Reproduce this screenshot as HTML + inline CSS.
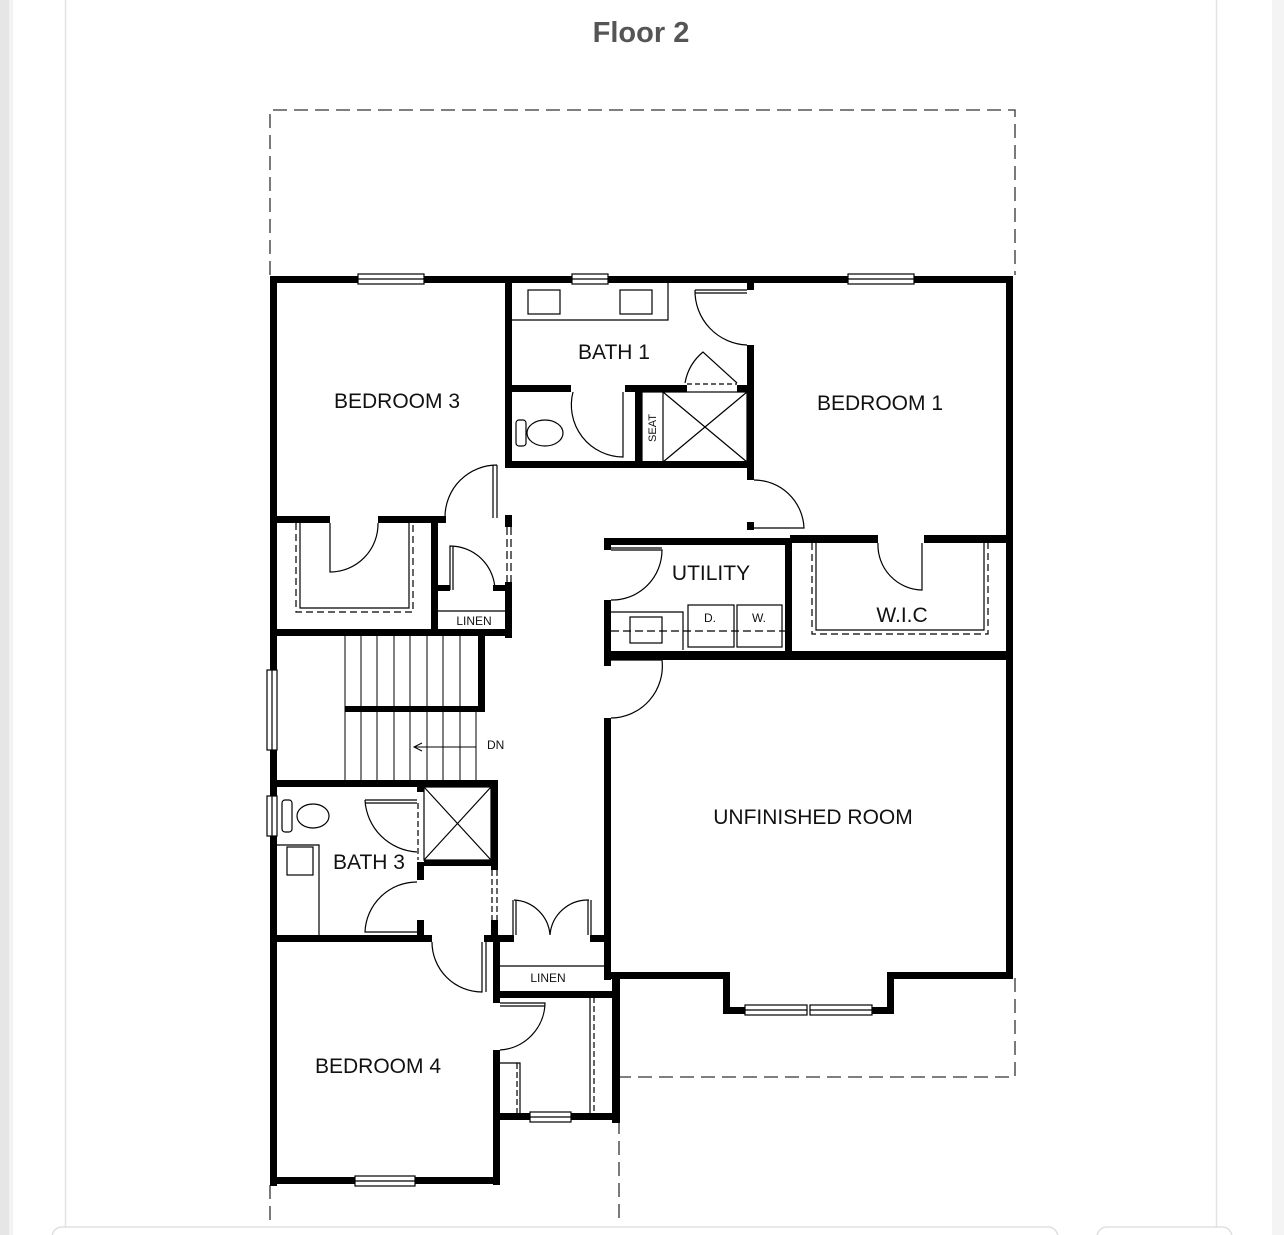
<!DOCTYPE html>
<html><head><meta charset="utf-8"><style>
html,body{margin:0;padding:0;background:#fff;}
body{width:1284px;height:1235px;position:relative;overflow:hidden;font-family:"Liberation Sans",sans-serif;}
</style></head><body>
<svg width="1284" height="1235" viewBox="0 0 1284 1235" xmlns="http://www.w3.org/2000/svg" style="position:absolute;left:0;top:0">
<rect x="0" y="0" width="9" height="1235" fill="#e6e6e6"/>
<rect x="9" y="0" width="4" height="1235" fill="#f3f3f3"/>
<line x1="65.5" y1="0" x2="65.5" y2="1228" stroke="#e2e2e2" stroke-width="1.5"/>
<line x1="1216.5" y1="0" x2="1216.5" y2="1228" stroke="#e2e2e2" stroke-width="1.5"/>
<rect x="1272" y="0" width="12" height="1235" fill="#f4f4f4"/>
<rect x="52" y="1227" width="1006" height="20" rx="10" fill="#fff" stroke="#e0e0e0" stroke-width="1.5"/>
<rect x="1097" y="1227" width="135" height="20" rx="10" fill="#fff" stroke="#e0e0e0" stroke-width="1.5"/>
<text x="641" y="42" text-anchor="middle" font-size="29" font-weight="bold" fill="#555" font-family="Liberation Sans, sans-serif">Floor 2</text>

<g fill="none" stroke="#333" stroke-width="1.3" stroke-dasharray="14,7">
<path d="M270 275 V110 H1015 V275"/>
<path d="M1015 978 V1077 H620"/>
<path d="M270 1185 V1225"/>
<path d="M619 1120 V1225"/>
</g>

<g fill="#000">
<rect x="270" y="276" width="88" height="7"/>
<rect x="424" y="276" width="148" height="7"/>
<rect x="608" y="276" width="240" height="7"/>
<rect x="914" y="276" width="99" height="7"/>
<rect x="270" y="276" width="7" height="394"/>
<rect x="270" y="750" width="7" height="46"/>
<rect x="270" y="836" width="7" height="350"/>
<rect x="1006" y="276" width="7" height="702"/>
<rect x="505" y="276" width="7" height="192"/>
<rect x="505" y="515" width="7" height="12"/>
<rect x="505" y="582" width="7" height="56"/>
<rect x="747" y="276" width="7" height="14"/>
<rect x="747" y="345" width="7" height="135"/>
<rect x="747" y="522" width="7" height="8"/>
<rect x="511" y="385" width="60" height="7"/>
<rect x="625" y="385" width="62" height="7"/>
<rect x="737" y="385" width="14" height="7"/>
<rect x="635" y="385" width="7" height="80"/>
<rect x="511" y="461" width="242" height="7"/>
<rect x="270" y="516" width="60" height="7"/>
<rect x="378" y="516" width="68" height="7"/>
<rect x="431" y="516" width="7" height="118"/>
<rect x="270" y="629" width="242" height="7"/>
<rect x="438" y="585" width="12" height="6"/>
<rect x="493" y="585" width="14" height="6"/>
<rect x="604" y="538" width="186" height="7"/>
<rect x="790" y="535" width="88" height="8"/>
<rect x="924" y="535" width="88" height="8"/>
<rect x="604" y="538" width="7" height="12"/>
<rect x="604" y="600" width="7" height="66"/>
<rect x="785" y="540" width="7" height="116"/>
<rect x="604" y="651" width="408" height="9"/>
<rect x="604" y="718" width="7" height="262"/>
<rect x="604" y="972" width="123" height="7"/>
<rect x="723" y="972" width="7" height="42"/>
<rect x="723" y="1007" width="24" height="7"/>
<rect x="870" y="1007" width="24" height="7"/>
<rect x="887" y="972" width="7" height="42"/>
<rect x="887" y="972" width="126" height="7"/>
<rect x="478" y="636" width="7" height="76"/>
<rect x="345" y="706" width="140" height="6"/>
<rect x="270" y="780" width="228" height="7"/>
<rect x="491" y="780" width="7" height="90"/>
<rect x="417" y="780" width="7" height="12"/>
<rect x="417" y="862" width="7" height="18"/>
<rect x="424" y="860" width="74" height="6"/>
<rect x="270" y="935" width="162" height="7"/>
<rect x="417" y="920" width="7" height="22"/>
<rect x="484" y="935" width="14" height="7"/>
<rect x="491" y="920" width="7" height="20"/>
<rect x="493" y="935" width="7" height="68"/>
<rect x="493" y="1050" width="7" height="135"/>
<rect x="498" y="935" width="16" height="7"/>
<rect x="590" y="935" width="20" height="7"/>
<rect x="493" y="991" width="127" height="7"/>
<rect x="612" y="978" width="8" height="145"/>
<rect x="497" y="1113" width="33" height="7"/>
<rect x="571" y="1113" width="49" height="7"/>
<rect x="270" y="1177" width="85" height="7"/>
<rect x="415" y="1177" width="85" height="7"/>
</g>

<g fill="#fff" stroke="#000" stroke-width="1.2">
<rect x="358" y="274" width="66" height="10"/><line x1="358" y1="279" x2="424" y2="279"/>
<rect x="572" y="274" width="36" height="10"/><line x1="572" y1="279" x2="608" y2="279"/>
<rect x="848" y="274" width="66" height="10"/><line x1="848" y1="279" x2="914" y2="279"/>
<rect x="267" y="670" width="10" height="80"/><line x1="272" y1="670" x2="272" y2="750"/>
<rect x="267" y="796" width="10" height="40"/><line x1="272" y1="796" x2="272" y2="836"/>
<rect x="355" y="1176" width="60" height="10"/><line x1="355" y1="1181" x2="415" y2="1181"/>
<rect x="530" y="1112" width="41" height="10"/><line x1="530" y1="1117" x2="571" y2="1117"/>
<rect x="745" y="1005" width="62" height="10"/><line x1="745" y1="1010" x2="807" y2="1010"/>
<rect x="810" y="1005" width="62" height="10"/><line x1="810" y1="1010" x2="872" y2="1010"/>
</g>

<g fill="none" stroke="#000" stroke-width="1.2">
<path d="M512 320 H668 V283"/>
<rect x="528" y="290" width="32" height="24"/>
<rect x="620" y="290" width="32" height="24"/>
<path d="M695 290 H747 M695 293 H747"/>
<path d="M695 290 A54 54 0 0 0 747 345"/>
<path d="M685 383 A52 52 0 0 1 703 352 L737 383"/>
<path d="M687 384 H737" stroke-dasharray="5,3"/>
<rect x="642" y="392" width="105" height="70"/>
<line x1="663" y1="392" x2="663" y2="462"/>
<line x1="663" y1="392" x2="747" y2="462"/><line x1="747" y1="392" x2="663" y2="462"/>
<rect x="516" y="420" width="10" height="26" rx="3"/>
<ellipse cx="545" cy="433" rx="18" ry="13"/>
<path d="M573 392 A52 52 0 0 0 623 457 V392"/>
<path d="M754 480 A50 50 0 0 1 804 528 H754"/>
<path d="M497 465 V518 M493 465 V518"/>
<path d="M497 465 A52 52 0 0 0 445 517"/>
<path d="M507 527 V582 M511 527 V582" stroke-dasharray="8,4"/>
<path d="M330 523 V572 A48 48 0 0 0 378 523"/>
<path d="M296 523 V612 H413 V523" stroke-dasharray="7,4"/>
<path d="M300 523 V608 H409 V523"/>
<path d="M450 590 V546 A45 45 0 0 1 495 590"/>
<path d="M453 590 V546"/>
<path d="M438 611 H505"/>
<g stroke-width="1">
<line x1="345" y1="636" x2="345" y2="780"/><line x1="361" y1="636" x2="361" y2="780"/>
<line x1="377" y1="636" x2="377" y2="780"/><line x1="394" y1="636" x2="394" y2="780"/>
<line x1="410" y1="636" x2="410" y2="780"/><line x1="427" y1="636" x2="427" y2="780"/>
<line x1="443" y1="636" x2="443" y2="780"/><line x1="460" y1="636" x2="460" y2="780"/>
<line x1="476" y1="712" x2="476" y2="780"/>
<line x1="415" y1="747" x2="476" y2="747"/>
<path d="M422 743 L414 747 L422 751"/>
</g>
<path d="M611 550 H662 A50 50 0 0 1 611 600"/>
<path d="M611 548 H662"/>
<path d="M611 612 H683 V650"/>
<rect x="630" y="617" width="32" height="26"/>
<rect x="688" y="605" width="46" height="42"/>
<rect x="737" y="605" width="45" height="42"/>
<path d="M611 631 H785" stroke-dasharray="8,4"/>
<path d="M611 660 H662 A52 52 0 0 1 611 718"/>
<path d="M878 543 A45 45 0 0 0 922 590 V543"/>
<path d="M812 543 V634 H988 V543" stroke-dasharray="7,4"/>
<path d="M816 543 V630 H984 V543"/>
<rect x="424" y="787" width="67" height="73"/>
<line x1="424" y1="787" x2="491" y2="860"/><line x1="491" y1="787" x2="424" y2="860"/>
<rect x="282" y="800" width="10" height="32" rx="3"/>
<ellipse cx="313" cy="816" rx="16" ry="12"/>
<path d="M277 845 H319 V935"/>
<rect x="287" y="847" width="26" height="28"/>
<path d="M365 800 H417 M365 803 H417"/>
<path d="M365 800 A55 55 0 0 0 417 852"/>
<path d="M418 803 V860" stroke-dasharray="6,3"/>
<path d="M417 882 A52 52 0 0 0 365 932 H417"/>
<path d="M432 942 A50 50 0 0 0 482 992 V942 M486 992 V942"/>
<path d="M492 870 V930 M497 870 V930" stroke-dasharray="6,3"/>
<path d="M513 900 V935 M516 900 V935 M588 900 V935 M591 900 V935"/>
<path d="M514 900 A38 38 0 0 1 550 935 A38 38 0 0 1 589 900"/>
<path d="M500 966 H604"/>
<path d="M500 1003 H545 A48 48 0 0 1 500 1050"/>
<path d="M500 1006 H545"/>
<path d="M500 1063 H520 V1113"/>
<path d="M517 1063 V1113" stroke-dasharray="6,3"/>
<path d="M590 997 V1113"/>
<path d="M594 997 V1113" stroke-dasharray="6,3"/>
</g>

<g font-family="Liberation Sans, sans-serif" fill="#111" text-anchor="middle">
<text x="397" y="408" font-size="21">BEDROOM 3</text>
<text x="614" y="359" font-size="21">BATH 1</text>
<text x="880" y="410" font-size="21">BEDROOM 1</text>
<text x="711" y="580" font-size="21">UTILITY</text>
<text x="902" y="622" font-size="21">W.I.C</text>
<text x="813" y="824" font-size="21">UNFINISHED ROOM</text>
<text x="369" y="869" font-size="21">BATH 3</text>
<text x="378" y="1073" font-size="21">BEDROOM 4</text>
<text x="474" y="625" font-size="12">LINEN</text>
<text x="548" y="982" font-size="12">LINEN</text>
<text x="710" y="622" font-size="12">D.</text>
<text x="759" y="622" font-size="12">W.</text>
<text x="487" y="749" font-size="12" text-anchor="start">DN</text>
<text x="0" y="0" font-size="11" transform="translate(656 428) rotate(-90)">SEAT</text>
</g>
</svg>
</body></html>
